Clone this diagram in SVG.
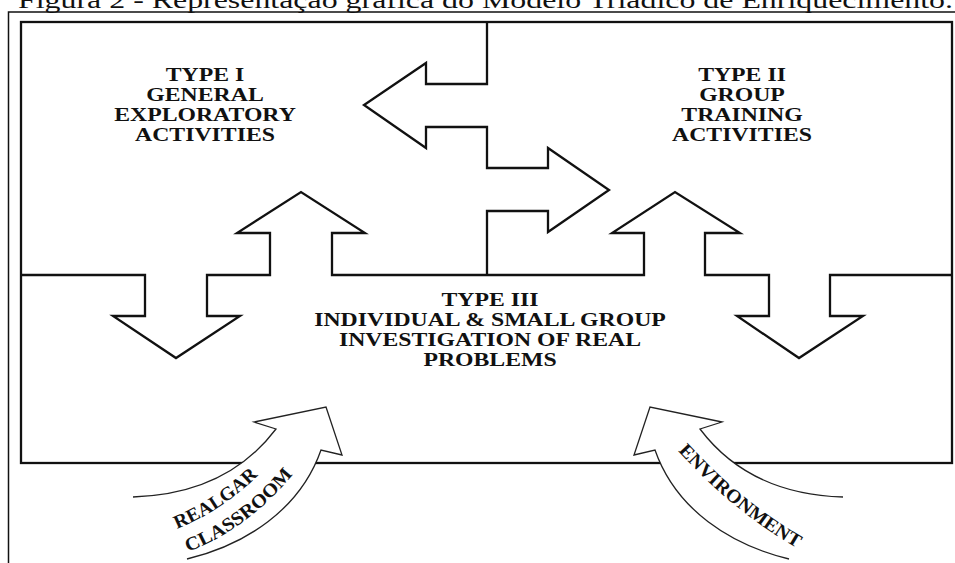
<svg xmlns="http://www.w3.org/2000/svg" width="955" height="563" viewBox="0 0 955 563">
  <style>
    .line { fill: none; stroke: #111; stroke-width: 2.3; stroke-linejoin: miter; }
    .thin { fill: none; stroke: #111; stroke-width: 1.5; }
    .curved { fill: #fff; stroke: #222; stroke-width: 1.3; stroke-linejoin: miter; }
    .caption { font-family: "Liberation Serif", "Times New Roman", serif; font-size: 24px; fill: #111; }
    .label { font-family: "Liberation Serif", "Times New Roman", serif; font-size: 19px; font-weight: bold; fill: #111; text-anchor: middle; }
    .flow { font-family: "Liberation Serif", "Times New Roman", serif; font-size: 19px; font-weight: bold; fill: #111; }
  </style>
  <defs>
    <path id="p-realgar" d="M177 529 Q228 508 265 468"/>
    <path id="p-classroom" d="M188 552 Q252 527 298 468"/>
    <path id="p-environment" d="M678 451 Q735 513 800 550"/>
  </defs>

  <rect width="955" height="563" fill="#fff"/>

  <!-- caption -->
  <text class="caption" x="18" y="8" textLength="935" lengthAdjust="spacingAndGlyphs">Figura 2 - Representação gráfica do Modelo Triádico de Enriquecimento.</text>

  <!-- outer and inner frame -->
  <g id="frame">
    <path class="thin" d="M8.5 563 V12 H955"/>
    <rect class="line" x="21" y="22" width="931" height="441"/>
  </g>

  <!-- region boundaries with the exchange arrows between the three types -->
  <g id="connectors">
    <path class="line" d="M487 22 V84 H426 V63 L364 105 L426 148 V127 H487 V168 H548 V148 L609 190 L548 232 V211 H487 V275"/>
    <path class="line" d="M21 275 H145 V316 H113 L176 358 L240 316 H207 V275 H270 V233 H237 L301 192 L365 233 H332 V275 H644 V233 H612 L675 192 L740 233 H705 V275 H769 V316 H737 L799 358 L863 316 H830 V275 H952"/>
  </g>

  <g id="type1" transform="translate(205 0) scale(1.25 1)">
    <text class="label" x="0" y="81.5">TYPE I</text>
    <text class="label" x="0" y="101.5">GENERAL</text>
    <text class="label" x="0" y="121.5">EXPLORATORY</text>
    <text class="label" x="0" y="141.5">ACTIVITIES</text>
  </g>

  <g id="type2" transform="translate(742 0) scale(1.25 1)">
    <text class="label" x="0" y="81.5">TYPE II</text>
    <text class="label" x="0" y="101.5">GROUP</text>
    <text class="label" x="0" y="121.5">TRAINING</text>
    <text class="label" x="0" y="141.5">ACTIVITIES</text>
  </g>

  <g id="type3" transform="translate(490 0) scale(1.25 1)">
    <text class="label" x="0" y="306.5">TYPE III</text>
    <text class="label" x="0" y="326.5">INDIVIDUAL &amp; SMALL GROUP</text>
    <text class="label" x="0" y="346.5">INVESTIGATION OF REAL</text>
    <text class="label" x="0" y="366.5">PROBLEMS</text>
  </g>

  <!-- curved input arrows; the tail end is left open -->
  <g id="classroom">
    <path class="curved" d="M133 497 C200 495 245 470 276 429 L254 422 L326 407 L342 455 L321 450 C300 510 245 545 187 559"/>
    <text class="flow"><textPath href="#p-realgar" textLength="98" lengthAdjust="spacingAndGlyphs">REALGAR</textPath></text>
    <text class="flow"><textPath href="#p-classroom" textLength="132" lengthAdjust="spacingAndGlyphs">CLASSROOM</textPath></text>
  </g>

  <g id="environment">
    <path class="curved" transform="matrix(-1 0 0 1 976 0)" d="M133 497 C200 495 245 470 276 429 L254 422 L326 407 L342 455 L321 450 C300 510 245 545 187 559"/>
    <text class="flow"><textPath href="#p-environment" textLength="154" lengthAdjust="spacingAndGlyphs">ENVIRONMENT</textPath></text>
  </g>
</svg>
